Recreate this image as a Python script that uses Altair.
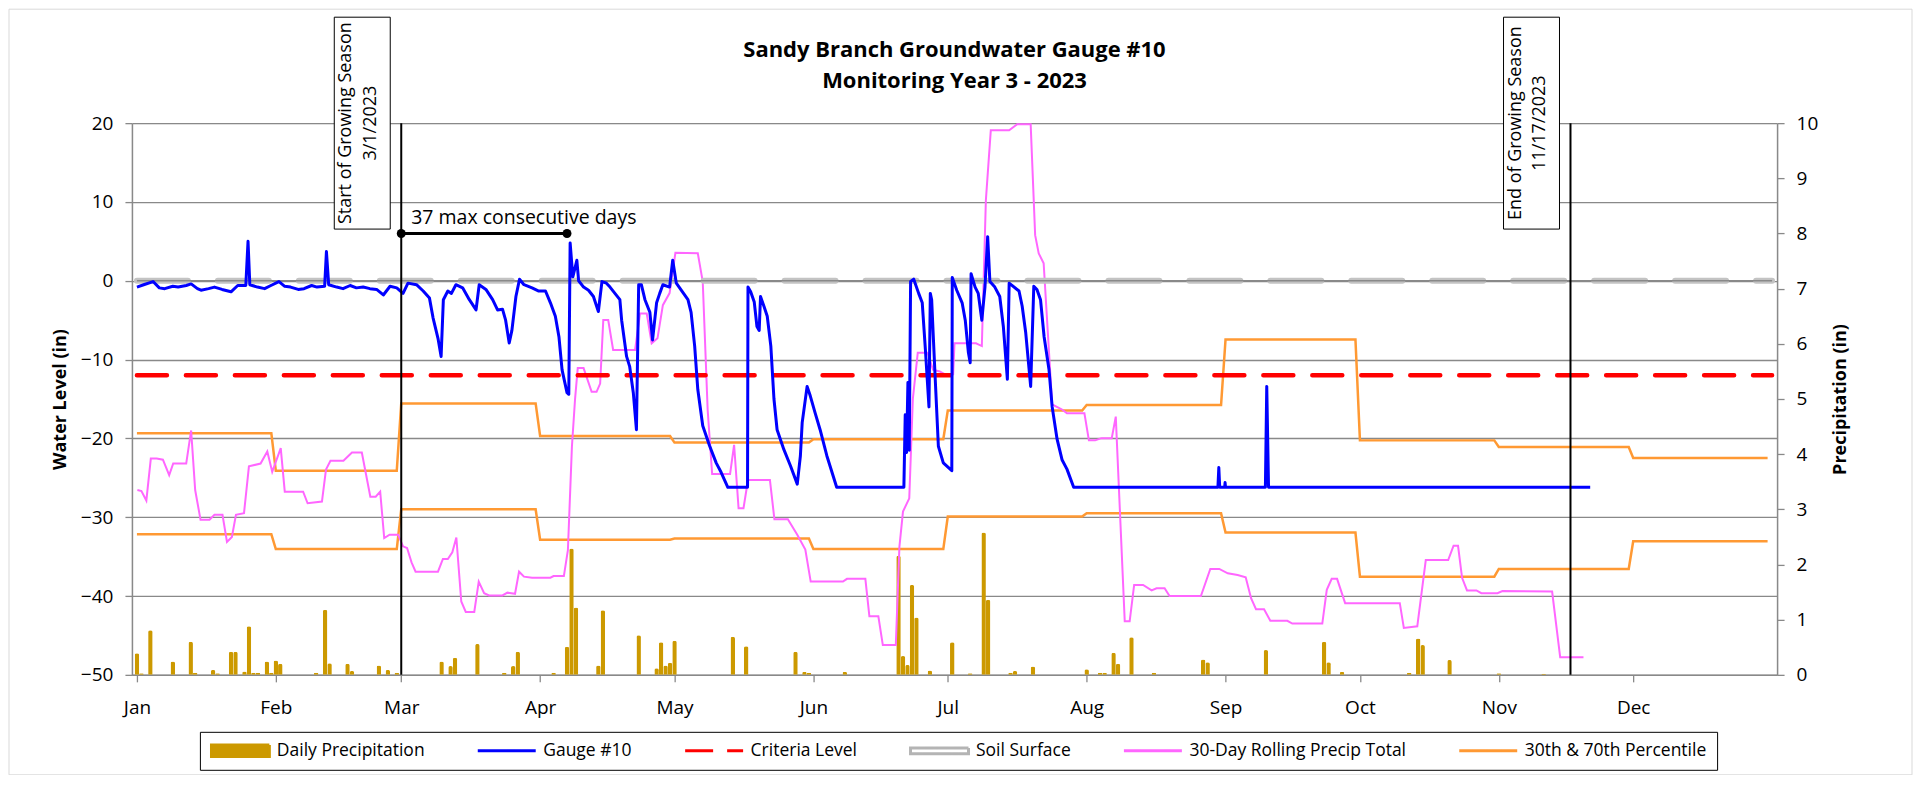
import altair as alt
import pandas as pd

YEAR_START = pd.Timestamp("2023-01-01")

# ---- Gauge #10 water level (day of year, inches) ----
gauge_points = [
    (0, -0.8), (1.5, -0.5), (3.6, -0.1), (5, -0.9), (6.2, -1.0), (8, -0.7), (9.2, -0.8), (11, -0.6),
    (12.1, -0.4), (13.5, -1.0), (14.3, -1.2), (16, -1.0), (17.3, -0.8), (19, -1.1), (21, -1.4),
    (22.5, -0.6), (24.3, -0.6), (24.8, 5.0), (25.2, -0.5), (26.9, -0.8), (28.5, -1.0), (29.9, -0.6),
    (31.7, -0.1), (33, -0.7), (34.3, -0.8), (36, -1.1), (37.3, -1.0), (39, -0.6), (40.2, -0.8),
    (41.9, -0.7), (42.3, 3.7), (42.8, -0.5), (44.6, -0.8), (46, -1.0), (47.6, -0.6), (49, -0.9),
    (50.5, -0.8), (52, -1.0), (53.5, -1.1), (55, -1.8), (56.5, -0.7), (58, -0.9), (59.4, -1.6),
    (60.5, -0.3), (62.4, -0.5), (63.9, -1.3), (65.3, -2.2), (66.1, -4.7), (67.2, -7.3), (67.9, -9.6),
    (68.4, -2.4), (69.4, -1.3), (70.2, -1.6), (71.2, -0.5), (72.7, -0.9), (74.2, -2.4), (75.7, -3.7),
    (76.4, -0.5), (77.9, -1.1), (79.4, -2.4), (80.5, -3.7), (81.6, -3.6), (82.3, -5.0), (83.1, -7.9),
    (83.7, -6.3), (84.6, -2.0), (85.4, 0.2), (86.4, -0.5), (88.2, -0.9), (89.7, -1.3), (91.2, -1.3),
    (92.3, -2.8), (93.4, -4.5), (94.2, -7.1), (94.9, -11.3), (96.0, -14.2), (96.4, -14.4), (96.7, 4.8),
    (97.3, 0.5), (98.2, 2.6), (98.6, 0.0), (99.7, -0.8), (100.8, -1.2), (101.9, -2.0), (103.0, -3.9),
    (103.8, -0.1), (104.8, -0.3), (105.6, -0.8), (106.7, -1.6), (107.8, -2.4), (108.2, -5.0),
    (109.3, -9.6), (110.0, -10.9), (110.8, -14.2), (111.5, -18.9), (112.0, -0.5), (112.6, -0.5),
    (113.4, -2.4), (114.5, -4.0), (115.1, -7.5), (116.0, -2.8), (116.7, -1.6), (117.4, -0.5),
    (118.9, -0.8), (119.6, 2.6), (120.4, -0.3), (121.5, -1.2), (123.0, -2.4), (123.7, -4.0),
    (124.5, -8.3), (125.2, -13.8), (126.3, -18.4), (127.8, -20.9), (129.3, -23.1), (130.4, -24.3),
    (131.9, -26.2), (136.3, -26.2), (136.4, -0.8), (137.0, -1.4), (137.8, -2.7), (138.4, -5.8),
    (138.9, -6.3), (139.2, -2.0), (140.0, -3.3), (140.7, -4.5), (141.5, -8.3), (142.2, -15.0),
    (142.9, -18.9), (144.4, -21.4), (145.9, -23.5), (147.4, -25.8), (148.1, -22.2), (148.5, -18.0),
    (149.6, -13.4), (150.3, -14.6), (151.4, -16.8), (152.5, -18.9), (154.0, -22.2), (156.2, -26.2),
    (171.2, -26.2), (171.5, -17.0), (171.8, -21.8), (172.1, -12.9), (172.4, -21.5), (172.7, -0.1),
    (173.4, 0.2), (174.5, -1.6), (175.3, -2.8), (176.0, -8.7), (176.8, -16.0), (177.1, -1.6),
    (177.4, -2.4), (177.8, -7.5), (178.2, -12.5), (178.9, -21.0), (180.0, -23.1), (181.9, -24.1),
    (182.0, 0.4), (183.0, -1.2), (184.2, -2.8), (184.9, -5.0), (185.6, -9.1), (186.0, -10.4),
    (186.2, 0.9), (187.1, -0.8), (187.8, -1.6), (188.6, -5.0), (189.3, -0.8), (189.9, 5.6),
    (190.4, -0.1), (191.5, -0.8), (192.6, -2.0), (193.4, -5.8), (194.3, -12.5), (194.7, -0.3),
    (196.9, -1.3), (197.6, -3.2), (198.4, -6.6), (199.5, -13.4), (200.2, -0.7), (200.9, -1.1),
    (201.7, -2.4), (202.5, -7.1), (203.6, -11.3), (204.3, -16.0), (205.4, -20.1), (206.5, -22.7),
    (207.6, -23.9), (209.1, -26.2), (241.3, -26.2), (241.5, -23.7), (241.7, -26.2), (242.8, -26.2),
    (242.9, -25.6), (243.0, -26.2), (251.9, -26.2), (252.2, -13.4), (252.6, -26.2), (324.4, -26.2),
]

# ---- Daily precipitation (day of year, inches) ----
precip_points = [
    (0, 0.39), (1, 0.03), (3, 0.81), (8, 0.24), (12, 0.60), (13, 0.04), (17, 0.09), (18, 0.03),
    (21, 0.42), (22, 0.42), (24, 0.06), (25, 0.88), (26, 0.04), (27, 0.04), (29, 0.24), (30, 0.04),
    (31, 0.26), (32, 0.20), (40, 0.04), (42, 1.18), (43, 0.21), (47, 0.20), (48, 0.07), (54, 0.17),
    (56, 0.09), (58, 0.04), (68, 0.24), (70, 0.16), (71, 0.31), (76, 0.56), (82, 0.04), (84, 0.16),
    (85, 0.42), (93, 0.04), (96, 0.51), (97, 2.29), (98, 1.22), (103, 0.17), (104, 1.17), (112, 0.72),
    (116, 0.12), (117, 0.59), (118, 0.17), (119, 0.22), (120, 0.62), (133, 0.69), (136, 0.52),
    (147, 0.42), (149, 0.05), (150, 0.04), (158, 0.05), (170, 2.16), (171, 0.34), (172, 0.18),
    (173, 1.63), (174, 1.04), (177, 0.08), (182, 0.59), (186, 0.03), (189, 2.58), (190, 1.36),
    (195, 0.04), (196, 0.07), (200, 0.15), (212, 0.10), (215, 0.04), (216, 0.04), (218, 0.40),
    (219, 0.20), (222, 0.68), (227, 0.04), (238, 0.28), (239, 0.23), (252, 0.45), (265, 0.60),
    (266, 0.23), (269, 0.05), (284, 0.04), (286, 0.66), (287, 0.54), (293, 0.27), (304, 0.03),
    (314, 0.02),
]

# ---- 30-day rolling precipitation total (day of year, inches) ----
rolling_points = [
    (0.1, 3.35), (1.0, 3.33), (2.1, 3.16), (3.1, 3.92), (4.4, 3.92), (5.8, 3.90), (7.2, 3.62),
    (8.1, 3.83), (11.0, 3.83), (12.1, 4.43), (13.0, 3.35), (14.2, 2.81), (16.2, 2.81), (17.3, 2.90),
    (19.1, 2.90), (20.1, 2.41), (21.2, 2.50), (22.1, 2.90), (23.9, 2.93), (25.0, 3.78), (27.6, 3.83),
    (29.1, 4.05), (30.2, 3.68), (32.1, 4.11), (33.0, 3.32), (37.1, 3.32), (38.1, 3.11), (41.3, 3.14),
    (42.2, 3.72), (43.2, 3.88), (46.1, 3.88), (48.0, 4.03), (50.2, 4.03), (52.1, 3.23), (53.3, 3.23),
    (54.3, 3.32), (55.2, 2.48), (56.4, 2.54), (58.3, 2.54), (59.4, 2.33), (60.3, 2.30), (61.3, 2.04),
    (62.2, 1.87), (67.2, 1.87), (68.3, 2.10), (69.4, 2.10), (70.4, 2.22), (71.3, 2.49), (72.4, 1.33),
    (73.4, 1.14), (75.3, 1.14), (76.3, 1.69), (77.5, 1.48), (78.6, 1.44), (81.6, 1.44), (82.7, 1.49),
    (84.4, 1.47), (85.3, 1.87), (86.4, 1.78), (88.2, 1.76), (92.3, 1.76), (93.0, 1.79), (95.3, 1.79),
    (96.2, 2.26), (97.1, 4.14), (97.8, 5.00), (98.4, 5.56), (99.7, 5.56), (101.5, 5.13), (102.6, 5.13),
    (103.4, 5.28), (104.1, 6.43), (105.2, 6.43), (106.3, 5.89), (111.2, 5.89), (112.3, 6.55),
    (113.8, 6.55), (114.9, 6.01), (116.2, 6.10), (117.4, 6.70), (118.9, 6.92), (120.2, 7.65),
    (125.2, 7.64), (126.3, 7.13), (127.4, 4.80), (128.4, 3.64), (132.4, 3.64), (133.3, 4.17),
    (134.3, 3.02), (135.4, 3.02), (136.4, 3.53), (141.3, 3.53), (142.3, 2.82), (145.3, 2.82),
    (147.4, 2.54), (149.2, 2.27), (150.4, 1.69), (157.6, 1.69), (158.5, 1.74), (162.6, 1.74),
    (163.5, 1.06), (165.5, 1.06), (166.5, 0.54), (169.4, 0.54), (170.2, 2.32), (171.0, 2.96),
    (172.4, 3.20), (173.2, 5.00), (174.3, 5.84), (176.5, 5.84), (177.7, 5.53), (179.2, 5.50),
    (180.3, 5.45), (182.2, 5.45), (182.5, 6.01), (187.3, 6.01), (188.6, 5.96), (189.5, 8.60),
    (190.6, 9.87), (194.7, 9.87), (196.5, 9.98), (199.5, 9.98), (200.5, 7.97), (201.3, 7.64),
    (202.4, 7.46), (204.3, 4.90), (206.5, 4.81), (207.6, 4.74), (211.5, 4.74), (212.5, 4.25),
    (213.9, 4.25), (215.3, 4.29), (217.6, 4.29), (218.5, 4.68), (220.5, 0.97), (221.6, 0.97),
    (222.6, 1.63), (224.6, 1.63), (226.5, 1.53), (227.6, 1.57), (229.4, 1.57), (230.5, 1.43),
    (237.5, 1.43), (239.6, 1.92), (241.6, 1.92), (243.5, 1.84), (245.7, 1.81), (247.5, 1.77),
    (248.7, 1.39), (249.8, 1.19), (251.6, 1.19), (253.0, 0.98), (256.8, 0.98), (257.9, 0.93),
    (264.6, 0.93), (265.6, 1.54), (266.7, 1.74), (267.9, 1.74), (269.7, 1.30), (281.9, 1.30),
    (282.8, 0.85), (285.8, 0.88), (287.7, 2.08), (292.7, 2.08), (293.9, 2.34), (294.9, 2.34),
    (295.8, 1.76), (296.9, 1.53), (299.0, 1.53), (300.1, 1.48), (303.7, 1.48), (304.8, 1.52),
    (315.9, 1.51), (317.7, 0.32), (322.9, 0.32),
]

# ---- Monthly 30th / 70th percentile of 30-day precipitation ----
month_first_day = [0, 31, 59, 90, 120, 151, 181, 212, 243, 273, 304, 334]
month_last_day = [30, 58, 89, 119, 150, 180, 211, 242, 272, 303, 333, 364]
percentile_70 = [4.38, 3.70, 4.92, 4.33, 4.21, 4.27, 4.79, 4.89, 6.08, 4.25, 4.13, 3.93]
percentile_30 = [2.55, 2.28, 3.00, 2.45, 2.47, 2.28, 2.87, 2.93, 2.58, 1.78, 1.92, 2.42]

# ---- Reference levels and annotations ----
soil_surface = 0.0
criteria_level = -12.0
season_dates = ["2023-03-01", "2023-11-17"]
season_labels = ["Start of Growing Season\n3/1/2023", "End of Growing Season\n11/17/2023"]
season_top = 20
season_bottom = -50
streak_dates = ["2023-03-01", "2023-04-07"]
streak_level = 6.0
streak_text = "37 max consecutive days"

series_names = ["Daily Precipitation", "Gauge #10", "Criteria Level", "Soil Surface",
                "30-Day Rolling Precip Total", "30th & 70th Percentile"]
series_colors = ["#CC9900", "#0000FF", "#FF0000", "#B4B4B4", "#FF66FF", "#FF9933"]

title_lines = ["Sandy Branch Groundwater Gauge #10", "Monitoring Year 3 - 2023"]

# ---------------------------------------------------------------------------
FONT = "Open Sans"
GRID = "#898989"


def with_dates(points, cols):
    df = pd.DataFrame(points, columns=cols)
    df["date"] = YEAR_START + pd.to_timedelta(df[cols[0]], unit="D")
    return df


gauge_df = with_dates(gauge_points, ["day", "level"])
gauge_df["series"] = "Gauge #10"
precip_df = with_dates(precip_points, ["day", "precip"])
rolling_df = with_dates(rolling_points, ["day", "total"])

pct_rows = []
for name, vals in (("70th", percentile_70), ("30th", percentile_30)):
    for first, last, v in zip(month_first_day, month_last_day, vals):
        pct_rows.append((first, name, v))
        pct_rows.append((last, name, v))
pct_df = with_dates(pct_rows, ["day", "pct", "value"])

level_df = pd.DataFrame({
    "date": [pd.Timestamp("2023-01-01"), pd.Timestamp("2024-01-01")],
    "soil": [soil_surface, soil_surface],
    "criteria": [criteria_level, criteria_level],
})
season_df = pd.DataFrame({
    "date": pd.to_datetime(season_dates),
    "label": season_labels,
    "top": [season_top, season_top],
    "bottom": [season_bottom, season_bottom],
})
streak_df = pd.DataFrame({"date": pd.to_datetime(streak_dates), "level": [streak_level, streak_level]})
streak_label_df = pd.DataFrame({"date": pd.to_datetime(streak_dates[:1]), "level": [streak_level],
                                "label": [streak_text]})

xscale = alt.Scale(domain=[alt.DateTime(year=2023, month=1, date=1),
                           alt.DateTime(year=2024, month=1, date=1)])
wscale = alt.Scale(domain=[-50, 20], nice=False, zero=False)
pscale = alt.Scale(domain=[0, 10], nice=False)

x_axis = alt.Axis(
    values=[alt.DateTime(year=2023, month=m, date=1) for m in range(1, 13)],
    format="%b", title=None, grid=False, tickSize=7, tickColor=GRID, tickWidth=1.3,
    domainColor=GRID, domainWidth=1.5, labelFontSize=19, labelPadding=17, labelColor="black",
    labelAlign="center", labelFlush=False, labelOverlap=False, labelFont=FONT,
)
w_axis = alt.Axis(
    orient="left", values=list(range(-50, 30, 10)), grid=True, gridColor=GRID, gridWidth=1.3,
    tickSize=7, tickColor=GRID, tickWidth=1.3, domainColor=GRID, domainWidth=1.5,
    labelFontSize=19, labelPadding=12, labelColor="black", labelFont=FONT,
    title="Water Level (in)", titleFontSize=18, titleFontWeight="bold", titlePadding=11,
    titleColor="black", titleFont=FONT,
)
p_axis = alt.Axis(
    orient="right", values=list(range(0, 11)), grid=False, tickSize=7, tickColor=GRID,
    tickWidth=1.3, domainColor=GRID, domainWidth=1.5, labelFontSize=19, labelPadding=12,
    labelColor="black", labelFont=FONT, title="Precipitation (in)", titleFontSize=18,
    titleFontWeight="bold", titlePadding=32, titleColor="black", titleFont=FONT, titleAngle=270,
)

legend = alt.Legend(
    title=None, orient="none", legendX=68, legendY=609, direction="horizontal",
    symbolSize=3364, clipHeight=18, symbolStrokeWidth=3,
    symbolType={"expr": "datum.value == 'Daily Precipitation' ? 'M-1,-0.2H1V0.2H-1Z' : datum.value == 'Soil Surface' ? 'M-1,-0.1H1V0.1H-1Z' : 'stroke'"},
    symbolFillColor={"expr": "datum.value == 'Daily Precipitation' ? '#CC9900' : 'transparent'"},
    symbolDash={"expr": "datum.value == 'Criteria Level' ? [28, 14] : [1, 0]"},
    labelFont=FONT, labelFontSize=17.5, labelColor="black", labelOffset=6, labelLimit=400,
    columnPadding=51.5, padding=10, strokeColor="black", fillColor="white",
)


def X():
    return alt.X("date:T", scale=xscale, axis=x_axis)


def WY(field):
    return alt.Y(field, scale=wscale, axis=w_axis)


def PY(field):
    return alt.Y(field, scale=pscale, axis=p_axis)


# ---- precipitation (right axis) ----
bars = alt.Chart(precip_df).mark_bar(
    color="#CC9900", width=4.5, cornerRadiusTopLeft=2, cornerRadiusTopRight=2
).encode(x=X(), y=PY("precip:Q"))

pct_lines = alt.Chart(pct_df).mark_line(color="#FF9933", strokeWidth=2.5).encode(
    x=X(), y=PY("value:Q"), detail="pct:N")

rolling = alt.Chart(rolling_df).mark_line(color="#FF66FF", strokeWidth=2).encode(
    x=X(), y=PY("total:Q"))

precip_layer = alt.layer(bars, pct_lines, rolling)

# ---- water level (left axis) ----
soil = alt.Chart(level_df).mark_line(
    color="#C3C3C3", strokeWidth=6, strokeDash=[51, 30], strokeCap="round"
).encode(x=X(), y=WY("soil:Q"))

soil_core = alt.Chart(level_df).mark_line(color=GRID, strokeWidth=1.3).encode(
    x=X(), y=WY("soil:Q"))

criteria = alt.Chart(level_df).mark_line(
    color="#FF0000", strokeWidth=4.5, strokeDash=[30, 19], strokeCap="round"
).encode(x=X(), y=WY("criteria:Q"))

gauge = alt.Chart(gauge_df).mark_line(strokeWidth=3, strokeJoin="round").encode(
    x=X(),
    y=WY("level:Q"),
    color=alt.Color("series:N", scale=alt.Scale(domain=series_names, range=series_colors),
                    legend=legend),
)

season_rules = alt.Chart(season_df).mark_rule(color="black", strokeWidth=2).encode(
    x=X(), y=WY("top:Q"), y2="bottom:Q")

season_boxes = alt.Chart(season_df).mark_rect(
    fill="white", stroke="black", strokeWidth=1, xOffset=-67, x2Offset=-11
).encode(x=X(), x2="date:T", y=alt.value(-106), y2=alt.value(106))

season_text = alt.Chart(season_df).mark_text(
    angle=270, align="center", baseline="middle", lineBreak="\n", lineHeight=25,
    fontSize=18, font=FONT, color="black", xOffset=-55
).encode(x=X(), y=alt.value(0), text="label:N")

streak_line = alt.Chart(streak_df).mark_line(color="black", strokeWidth=3).encode(
    x=X(), y=WY("level:Q"))
streak_dots = alt.Chart(streak_df).mark_circle(color="black", size=80, opacity=1).encode(
    x=X(), y=WY("level:Q"))
streak_label = alt.Chart(streak_label_df).mark_text(
    align="left", baseline="alphabetic", dx=10, dy=-9, fontSize=19.5, font=FONT, color="black"
).encode(x=X(), y=WY("level:Q"), text="label:N")

frame = alt.Chart(pd.DataFrame({"frame": [0]})).mark_rect(
    filled=False, stroke="#D9D9D9", strokeWidth=1
).encode(x=alt.value(-123), x2=alt.value(1781), y=alt.value(-114), y2=alt.value(652))

water_layer = alt.layer(
    soil, soil_core, criteria, gauge, season_rules, season_boxes, season_text,
    streak_line, streak_dots, streak_label, frame,
)

chart = alt.layer(precip_layer, water_layer).resolve_scale(y="independent").properties(
    width=1646, height=552,
    title=alt.TitleParams(text=title_lines, fontSize=22, fontWeight="bold", font=FONT,
                          anchor="middle", frame="group", offset=-106, lineHeight=31,
                          color="black", baseline="bottom"),
    padding={"left": 124, "top": 115, "right": 140, "bottom": 100},
    autosize=alt.AutoSizeParams(type="none"),
).configure_view(stroke="transparent").configure(font=FONT)

chart.save("out.html", embed_options={"renderer": "svg", "actions": False})
